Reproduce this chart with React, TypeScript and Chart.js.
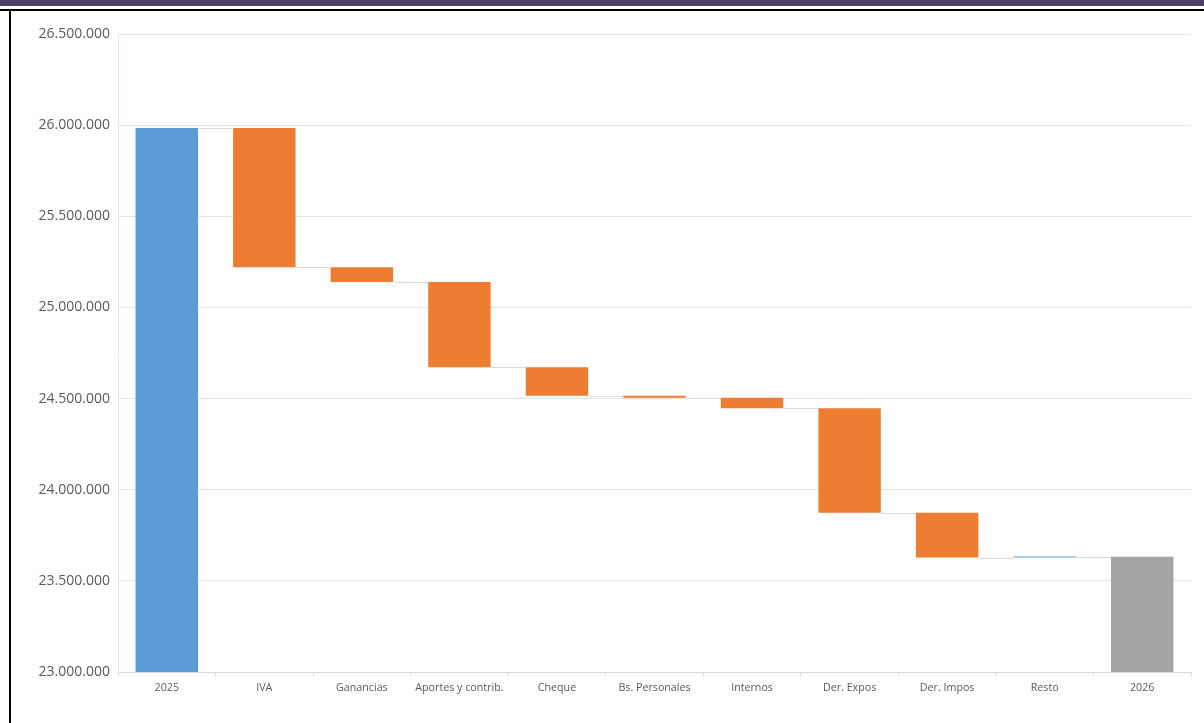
import React, { useEffect, useRef } from "react";
import { Chart, registerables } from "chart.js";

Chart.register(...registerables);

const categories = [
  "2025",
  "IVA",
  "Ganancias",
  "Aportes y contrib.",
  "Cheque",
  "Bs. Personales",
  "Internos",
  "Der. Expos",
  "Der. Impos",
  "Resto",
  "2026",
];
// total bars hold the level, the others hold the change
const kinds = ["total", "delta", "delta", "delta", "delta", "delta", "delta", "delta", "delta", "delta", "total"];
const values = [25985000, -765000, -80000, -468000, -157000, -10000, -58000, -573000, -246000, 4000, 23632000];

const Y_MIN = 23000000;
const Y_MAX = 26500000;
const Y_STEP = 500000;

const COLOR_TOTAL_START = "#5B9BD5";
const COLOR_UP = "#5B9BD5";
const COLOR_DOWN = "#ED7D31";
const COLOR_TOTAL_END = "#A5A5A5";

function fmt(v: number): string {
  return Math.round(v)
    .toString()
    .replace(/\B(?=(\d{3})+(?!\d))/g, ".");
}

export default function App() {
  const ref = useRef<HTMLCanvasElement | null>(null);

  useEffect(() => {
    if (!ref.current) return;
    const ranges: [number, number][] = [];
    const levels: number[] = [];
    const colors: string[] = [];
    let level = 0;
    values.forEach((v, i) => {
      if (kinds[i] === "total") {
        level = v;
        ranges.push([Y_MIN, v]);
        colors.push(i === 0 ? COLOR_TOTAL_START : COLOR_TOTAL_END);
      } else {
        const start = level;
        level = level + v;
        ranges.push([start, level]);
        colors.push(v >= 0 ? COLOR_UP : COLOR_DOWN);
      }
      levels.push(level);
    });

    const connectors = {
      id: "connectors",
      afterDatasetsDraw(chart: any) {
        const meta = chart.getDatasetMeta(0);
        const ys = chart.scales.y;
        const ctx = chart.ctx;
        ctx.save();
        ctx.strokeStyle = "#D9D9D9";
        ctx.lineWidth = 1;
        for (let i = 0; i < meta.data.length - 1; i++) {
          const a = meta.data[i];
          const b = meta.data[i + 1];
          const y = Math.round(ys.getPixelForValue(levels[i])) + 0.5;
          ctx.beginPath();
          ctx.moveTo(a.x + a.width / 2, y);
          ctx.lineTo(b.x - b.width / 2, y);
          ctx.stroke();
        }
        ctx.restore();
      },
    };

    const chart = new Chart(ref.current, {
      type: "bar",
      data: {
        labels: categories,
        datasets: [
          {
            data: ranges as any,
            backgroundColor: colors,
            borderWidth: 0,
            barPercentage: 0.64,
            categoryPercentage: 1,
            minBarLength: 1,
          },
        ],
      },
      options: {
        responsive: false,
        animation: false,
        layout: { padding: { left: 0, right: 13, top: 34, bottom: 0 } },
        plugins: {
          legend: { display: false },
          tooltip: { enabled: false },
        },
        scales: {
          x: {
            afterFit(scale: any) {
              scale.height = 51;
            },
            grid: {
              offset: true,
              drawOnChartArea: false,
              color: "#D9D9D9",
              tickLength: 4,
            },
            border: { color: "#D9D9D9" },
            ticks: {
              color: "#595959",
              font: { family: "Open Sans", size: 10.7 },
              padding: 6,
              maxRotation: 0,
              autoSkip: false,
            },
          },
          y: {
            min: Y_MIN,
            max: Y_MAX,
            afterFit(scale: any) {
              scale.width = 118;
            },
            grid: { color: "#E3E3E3", drawTicks: false },
            border: { display: true, color: "#F3E3DA" },
            ticks: {
              stepSize: Y_STEP,
              color: "#595959",
              font: { family: "Open Sans", size: 14 },
              padding: 8,
              callback: (v: any) => fmt(Number(v)),
            },
          },
        },
      },
      plugins: [connectors],
    });
    return () => chart.destroy();
  }, []);

  return (
    <div style={{ position: "fixed", left: 0, top: 0, width: 1204, height: 723, background: "#fff", overflow: "hidden" }}>
      <div style={{ position: "absolute", left: 0, top: 0, width: 1204, height: 6, background: "#4A3F6B" }} />
      <div style={{ position: "absolute", left: 0, top: 8.5, width: 1204, height: 2, background: "#000" }} />
      <div style={{ position: "absolute", left: 9, top: 8.5, width: 2, height: 723, background: "#000" }} />
      <canvas ref={ref} width={1204} height={723} style={{ position: "absolute", left: 0, top: 0 }} />
    </div>
  );
}
